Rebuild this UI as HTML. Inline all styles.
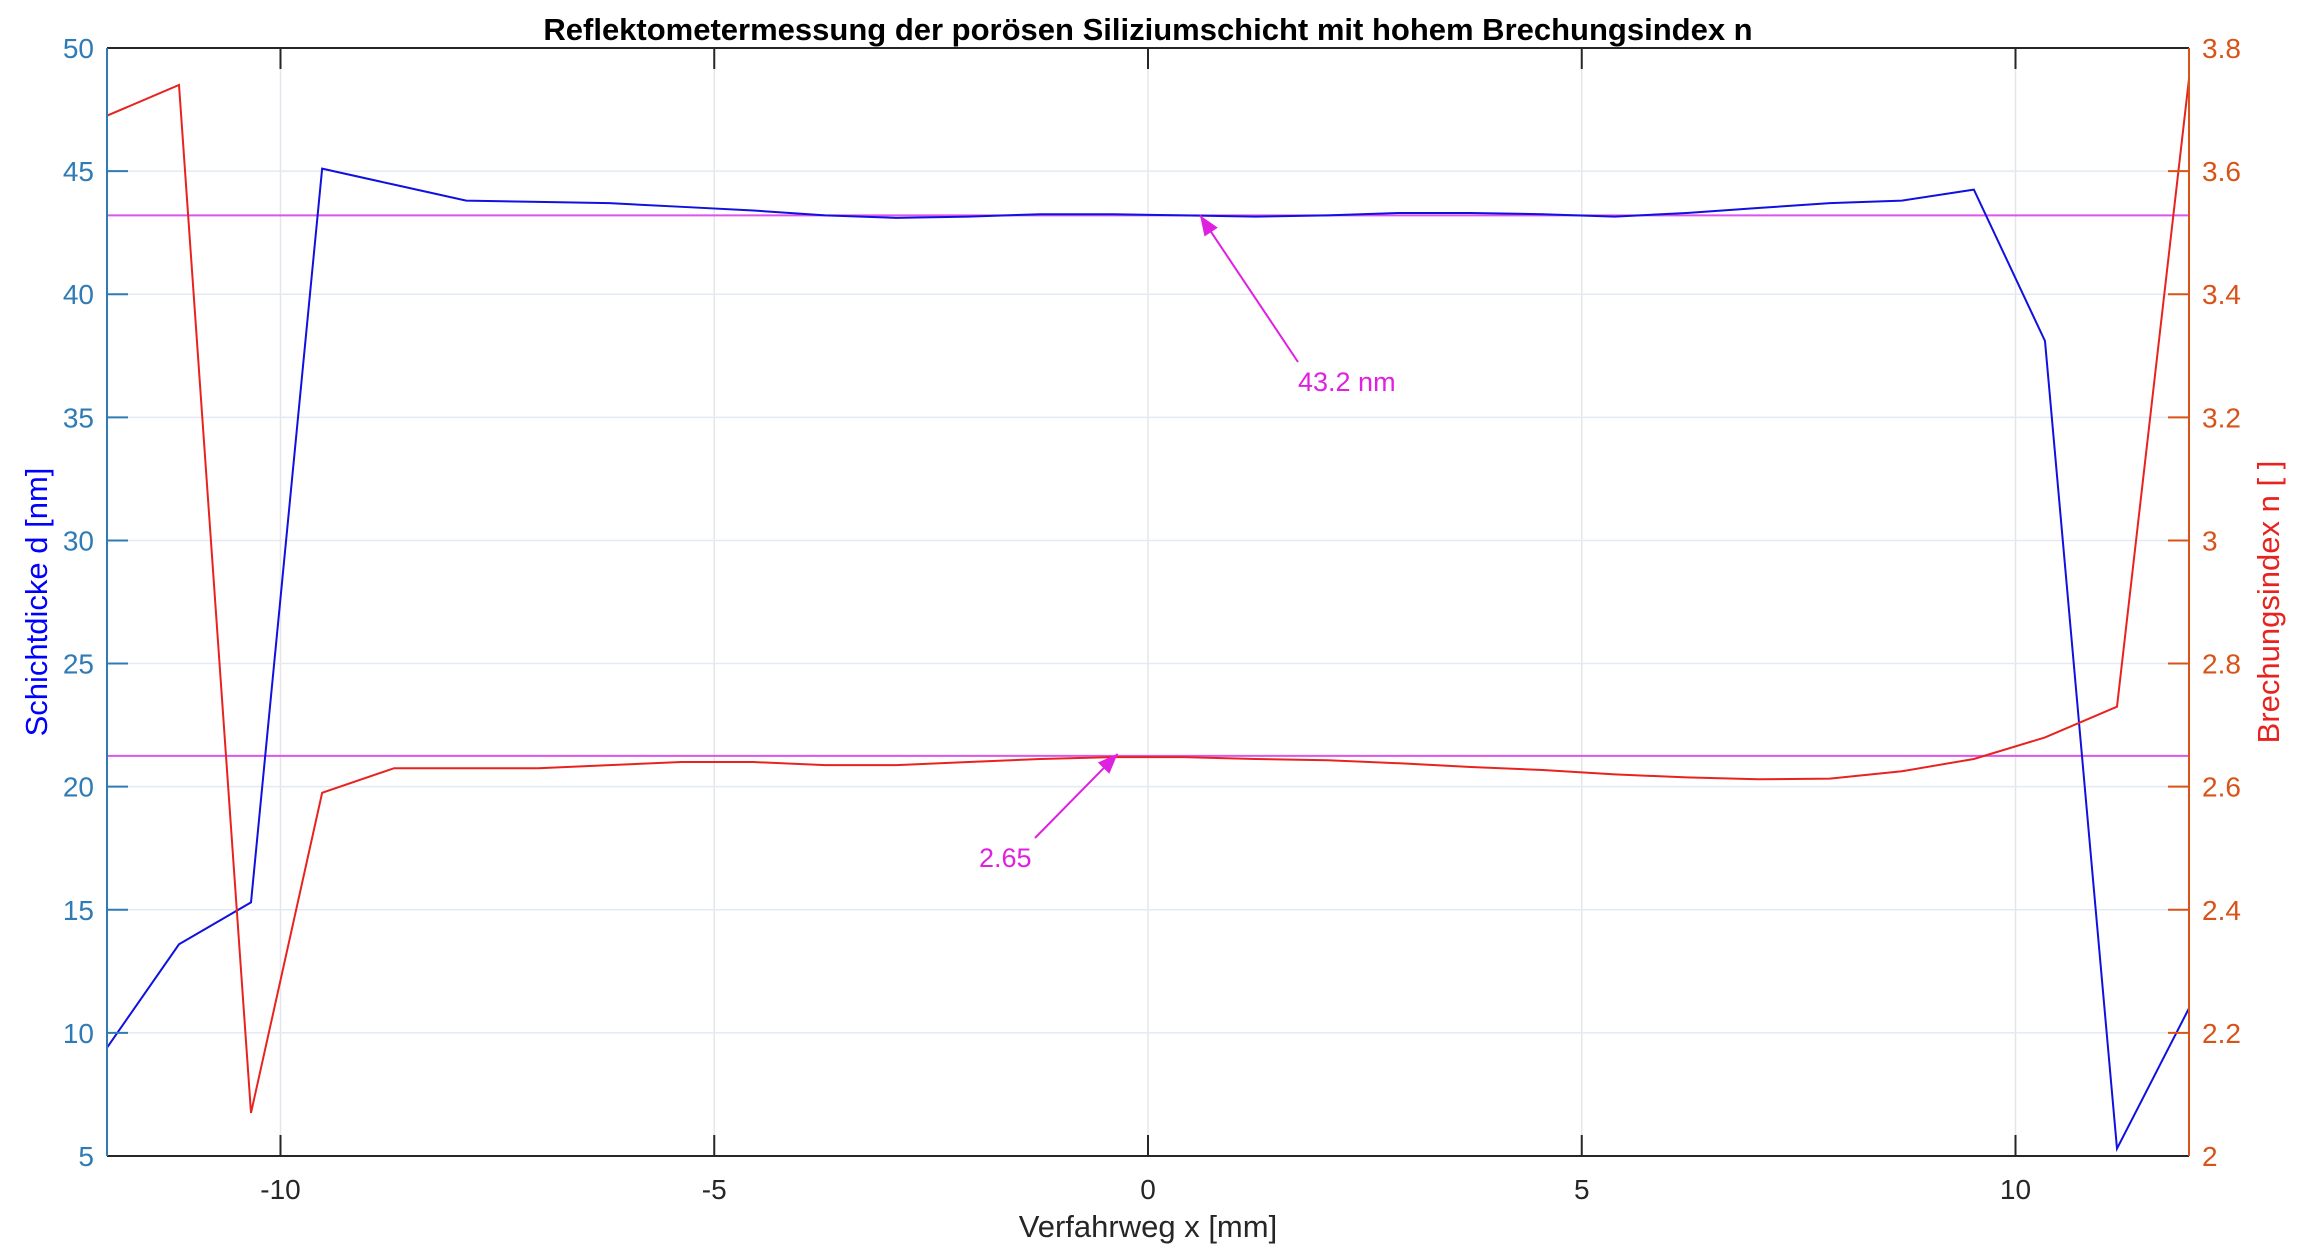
<!DOCTYPE html>
<html><head><meta charset="utf-8"><style>
html,body{margin:0;padding:0;background:#fff;}
svg{display:block;font-family:"Liberation Sans",Arial,sans-serif;}
</style></head><body>
<svg id="chart" width="2298" height="1258" viewBox="0 0 2298 1258" xmlns="http://www.w3.org/2000/svg">
<rect width="2298" height="1258" fill="#fff"/>
<g id="grid"></g>
<g id="refs"></g>
<g id="series"></g>
<g id="axes"></g>
<text x="1148" y="40" text-anchor="middle" font-size="31" font-weight="bold" fill="#000">Reflektometermessung der porösen Siliziumschicht mit hohem Brechungsindex n</text>
<text x="1148" y="1237" text-anchor="middle" font-size="31" fill="#262626">Verfahrweg x [mm]</text>
<text transform="translate(47,602) rotate(-90)" text-anchor="middle" font-size="31" fill="#0000ff">Schichtdicke d [nm]</text>
<text transform="translate(2279,602) rotate(-90)" text-anchor="middle" font-size="31" fill="#e8231f">Brechungsindex n [ ]</text>
<g id="ann"></g>
</svg>
<script>
const xTicks = [-10, -5, 0, 5, 10];
const leftTicks = [5, 10, 15, 20, 25, 30, 35, 40, 45, 50];
const rightTicks = [2, 2.2, 2.4, 2.6, 2.8, 3, 3.2, 3.4, 3.6, 3.8];
const xPos = [-12,-11.17,-10.34,-9.52,-8.69,-7.86,-7.03,-6.21,-5.38,-4.55,-3.72,-2.90,-2.07,-1.24,-0.41,0.41,1.24,2.07,2.90,3.72,4.55,5.38,6.21,7.03,7.86,8.69,9.52,10.34,11.17,12];
const thickness = [9.4,13.6,15.3,45.1,44.45,43.8,43.75,43.7,43.55,43.4,43.2,43.1,43.15,43.25,43.25,43.2,43.15,43.2,43.3,43.3,43.25,43.15,43.3,43.5,43.7,43.8,44.25,38.1,5.3,11.0];
const refIndex = [3.69,3.74,2.07,2.59,2.63,2.63,2.63,2.635,2.64,2.64,2.635,2.635,2.64,2.645,2.648,2.648,2.645,2.643,2.638,2.632,2.627,2.62,2.615,2.612,2.613,2.625,2.645,2.68,2.73,3.75];
const refThickness = 43.2;
const refN = 2.65;

const L=107,R=2189,T=48,B=1156;
const xS=v=>L+(v+12)/24*(R-L);
const yL=v=>B-(v-5)/45*(B-T);
const yR=v=>B-(v-2)/1.8*(B-T);
const NS='http://www.w3.org/2000/svg';
function mk(tag,attrs,parent){const e=document.createElementNS(NS,tag);for(const k in attrs)e.setAttribute(k,attrs[k]);parent.appendChild(e);return e;}
const grid=document.getElementById('grid'),axes=document.getElementById('axes'),series=document.getElementById('series'),refs=document.getElementById('refs'),ann=document.getElementById('ann');

xTicks.forEach(t=>{
  const g=mk('line',{x1:xS(t),x2:xS(t),y1:T,y2:B,stroke:'#e3e6ea','stroke-width':1.5},grid);
  
  
  mk('line',{x1:xS(t),x2:xS(t),y1:B,y2:B-21,stroke:'#262626','stroke-width':2},axes);
  mk('line',{x1:xS(t),x2:xS(t),y1:T,y2:T+21,stroke:'#262626','stroke-width':2},axes);
  const tx=mk('text',{x:xS(t),y:B+43,'text-anchor':'middle','font-size':28,fill:'#262626'},axes);
  tx.textContent=t;
  
  
});
leftTicks.forEach(t=>{
  const g=mk('line',{x1:L,x2:R,y1:yL(t),y2:yL(t),stroke:'#e3eaf3','stroke-width':1.5},grid);
  
  
  mk('line',{x1:L,x2:L+21,y1:yL(t),y2:yL(t),stroke:'#2f7bb5','stroke-width':2},axes);
  const tx=mk('text',{x:L-13,y:yL(t)+10,'text-anchor':'end','font-size':28,fill:'#2f7bb5'},axes);
  tx.textContent=t;
  
  
});
rightTicks.forEach(t=>{
  mk('line',{x1:R-21,x2:R,y1:yR(t),y2:yR(t),stroke:'#d95319','stroke-width':2},axes);
  const tx=mk('text',{x:R+13,y:yR(t)+10,'text-anchor':'start','font-size':28,fill:'#d95319'},axes);
  tx.textContent=String(t);
  
  
});
mk('line',{x1:L,x2:R,y1:T,y2:T,stroke:'#262626','stroke-width':2},axes);
mk('line',{x1:L,x2:R,y1:B,y2:B,stroke:'#262626','stroke-width':2},axes);
mk('line',{x1:L,x2:L,y1:T,y2:B,stroke:'#2f7bb5','stroke-width':2},axes);
mk('line',{x1:R,x2:R,y1:T,y2:B,stroke:'#d95319','stroke-width':2},axes);

const r1=mk('line',{x1:L,x2:R,y1:yL(refThickness),y2:yL(refThickness),stroke:'#dd55ee','stroke-width':2},refs);


const r2=mk('line',{x1:L,x2:R,y1:yR(refN),y2:yR(refN),stroke:'#dd55ee','stroke-width':2},refs);



const pb=mk('polyline',{points:xPos.map((x,i)=>xS(x)+','+yL(thickness[i])).join(' '),fill:'none',stroke:'#1010e0','stroke-width':2},series);


const pr=mk('polyline',{points:xPos.map((x,i)=>xS(x)+','+yR(refIndex[i])).join(' '),fill:'none',stroke:'#e8231f','stroke-width':2},series);



function arrow(x1,y1,x2,y2,name){
  const g=mk('g',{},ann);
  
  
  mk('line',{x1:x1,y1:y1,x2:x2,y2:y2,stroke:'#e020e0','stroke-width':2},g);
  const a=Math.atan2(y2-y1,x2-x1),l=20,w=8;
  const bx=x2-l*Math.cos(a),by=y2-l*Math.sin(a);
  const p=[[x2,y2],[bx+w*Math.sin(a),by-w*Math.cos(a)],[bx-w*Math.sin(a),by+w*Math.cos(a)]];
  mk('polygon',{points:p.map(q=>q.join(',')).join(' '),fill:'#e020e0'},g);
}
arrow(1298,362,xS(0.6),yL(refThickness),'thickness-arrow');
arrow(1035,838,xS(-0.35),yR(refN)-2,'index-arrow');
const a1=mk('text',{x:1298,y:391,'font-size':27,fill:'#e020e0'},ann);
a1.textContent='43.2 nm';


const a2=mk('text',{x:979,y:867,'font-size':27,fill:'#e020e0'},ann);
a2.textContent='2.65';


</script>
</body></html>
